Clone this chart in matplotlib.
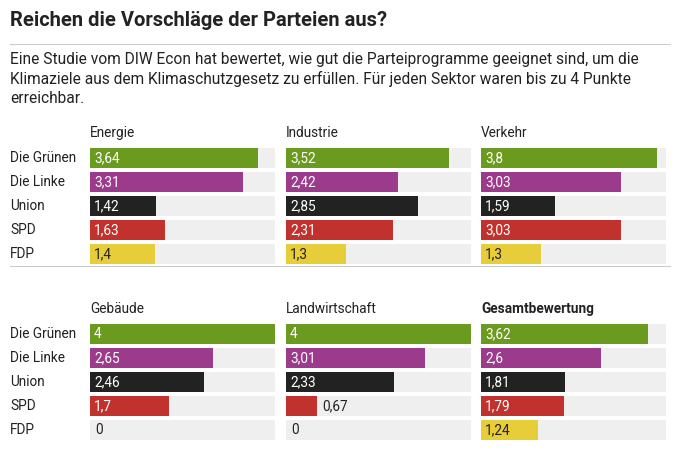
import matplotlib

matplotlib.use("Agg")
import matplotlib.pyplot as plt

plt.rcParams["font.family"] = ["Roboto", "DejaVu Sans"]

parties = ["Die Grünen", "Die Linke", "Union", "SPD", "FDP"]
colors = ["#6b9b1e", "#9c3a8b", "#222222", "#c1312e", "#e8cd3a"]
text_colors = ["white", "white", "white", "white", "#222222"]

sectors = ["Energie", "Industrie", "Verkehr", "Gebäude", "Landwirtschaft", "Gesamtbewertung"]
energie = [3.64, 3.31, 1.42, 1.63, 1.4]
industrie = [3.52, 2.42, 2.85, 2.31, 1.3]
verkehr = [3.8, 3.03, 1.59, 3.03, 1.3]
gebaeude = [4, 2.65, 2.46, 1.7, 0]
landwirtschaft = [4, 3.01, 2.33, 0.67, 0]
gesamt = [3.62, 2.6, 1.81, 1.79, 1.24]
values = [energie, industrie, verkehr, gebaeude, landwirtschaft, gesamt]

W, H = 690, 451
fig = plt.figure(figsize=(W / 100, H / 100), dpi=100)

fig.text(10 / W, 1 - 20 / H, "Reichen die Vorschläge der Parteien aus?",
         fontsize=14.5, fontweight="bold", va="center", color="#222222")
fig.add_artist(plt.Line2D([10 / W, 670 / W], [1 - 44 / H] * 2, color="#cccccc", lw=0.8))
subtitle = ("Eine Studie vom DIW Econ hat bewertet, wie gut die Parteiprogramme geeignet sind, um die\n"
            "Klimaziele aus dem Klimaschutzgesetz zu erfüllen. Für jeden Sektor waren bis zu 4 Punkte\n"
            "erreichbar.")
fig.text(10 / W, 1 - 52 / H, subtitle, fontsize=11.2, va="top", color="#222222", linespacing=1.3)
fig.add_artist(plt.Line2D([10 / W, 670 / W], [1 - 266 / H] * 2, color="#cccccc", lw=0.8))

col_left = [90, 286, 481]
col_width = 185
row_top = [146, 322]

for i, (name, vals) in enumerate(zip(sectors, values)):
    r, c = divmod(i, 3)
    top = row_top[r]
    ax = fig.add_axes([col_left[c] / W, 1 - (top + 120) / H, col_width / W, 120 / H])
    ax.set_xlim(0, 4)
    ax.set_ylim(4.5, -0.5)
    ax.axis("off")
    y = range(len(parties))
    ax.barh(y, [4] * len(parties), height=0.83, color="#efefef")
    ax.barh(y, vals, height=0.83, color=colors)
    for k, v in enumerate(vals):
        label = f"{v:g}".replace(".", ",")
        if v >= 0.9:
            ax.annotate(label, (0, k), xytext=(3, 0), textcoords="offset points",
                        va="center", fontsize=9.8, color=text_colors[k])
        else:
            ax.annotate(label, (v, k), xytext=(4, 0), textcoords="offset points",
                        va="center", fontsize=9.8, color="#222222")
    ax.text(0, -0.75, name, fontsize=9.8, va="bottom", color="#222222",
            fontweight="bold" if name == "Gesamtbewertung" else "normal")
    if c == 0:
        for k, p in enumerate(parties):
            fig.text(10 / W, 1 - (top + 12 + 24 * k) / H, p, fontsize=9.8, va="center", color="#222222")

fig.savefig("out.png", dpi=100)
